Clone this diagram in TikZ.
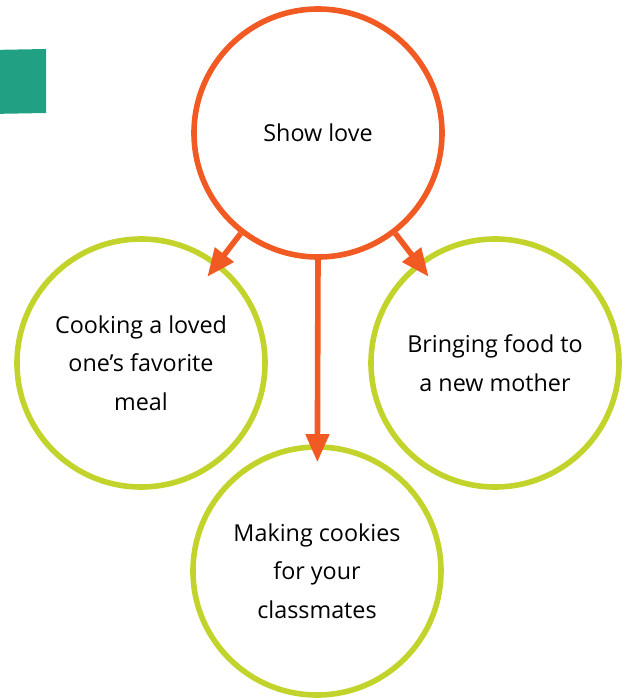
\documentclass[tikz,border=0pt]{standalone}
\usepackage{fontspec}
\setmainfont{Open Sans}
\usetikzlibrary{arrows.meta}
\definecolor{loveorange}{RGB}{241,90,34}
\definecolor{ideagreen}{RGB}{194,212,44}
\definecolor{tabteal}{RGB}{33,160,131}

\begin{document}
\begin{tikzpicture}[x=0.75pt,y=-0.75pt,
  bubble/.style={circle,draw,line width=4.2pt,minimum size=186pt,inner sep=0pt,
    align=center,font=\fontsize{17.5}{29}\selectfont},
  topic/.style={bubble,draw=loveorange},
  idea/.style={bubble,draw=ideagreen},
  push/.style={draw=loveorange,line width=4.2pt,
    -{Triangle[length=21pt,width=17pt]},shorten >=-13.5pt}]

\useasboundingbox (0,0) rectangle (631,700);

% cut-off tab at the left edge
\fill[tabteal] (-10,50) -- (46,49) -- (46,113) -- (-10,114) -- cycle;

\node[topic] (show) at (318,133) {Show love};

\node[idea] (cook)  at (141,363) {Cooking a loved\\one's favorite\\meal};
\node[idea] (bring) at (495,363) {Bringing food to\\a new mother};
\node[idea] (bake)  at (317,571) {Making cookies\\for your\\classmates};

\draw[push] (show) -- (cook);
\draw[push] (show) -- (bring);
\draw[push] (show.south) -- (bake);

\end{tikzpicture}
\end{document}
